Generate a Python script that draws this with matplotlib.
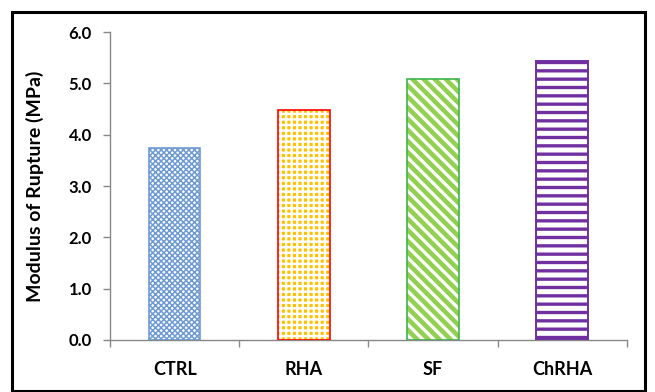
import matplotlib.pyplot as plt
from matplotlib.patches import Rectangle

# data
categories = ["CTRL", "RHA", "SF", "ChRHA"]
mor = [3.75, 4.49, 5.08, 5.44]
y_ticks = [0.0, 1.0, 2.0, 3.0, 4.0, 5.0, 6.0]

plt.rcParams['font.family'] = ['Lato', 'DejaVu Sans']
plt.rcParams['font.weight'] = 'bold'

fig = plt.figure(figsize=(6.55, 3.92), dpi=100)
ax = fig.add_axes([0.168, 0.133, 0.789, 0.785])

x = list(range(len(categories)))
w = 0.4

# CTRL: blue diamond lattice
plt.rcParams['hatch.linewidth'] = 1.1
ax.bar(x[0], mor[0], w, facecolor='white', edgecolor='#6E9AD3', hatch='xxxxxx', linewidth=0, zorder=3)
ax.bar(x[0], mor[0], w, facecolor='none', edgecolor='#6E9AD3', linewidth=1.2, zorder=4)

# RHA: gold checker with red outline
plt.rcParams['hatch.linewidth'] = 1.7
ax.bar(x[1], mor[1], w, facecolor='#FFC000', edgecolor='white', hatch='+++', linewidth=0, zorder=3)
ax.bar(x[1], mor[1], w, facecolor='none', edgecolor='#FF0000', linewidth=1.2, zorder=4)

# SF: green diagonals
plt.rcParams['hatch.linewidth'] = 3.3
ax.bar(x[2], mor[2], w, facecolor='white', edgecolor='#92D050', hatch='\\\\\\', linewidth=0, zorder=3)
ax.bar(x[2], mor[2], w, facecolor='none', edgecolor='#3DB54A', linewidth=1.2, zorder=4)

# ChRHA: purple horizontal stripes
plt.rcParams['hatch.linewidth'] = 2.4
ax.bar(x[3], mor[3], w, facecolor='white', edgecolor='#7030A0', hatch='--', linewidth=0, zorder=3)
ax.bar(x[3], mor[3], w, facecolor='none', edgecolor='#7030A0', linewidth=1.4, zorder=4)

ax.set_xlim(-0.5, len(categories) - 0.5)
ax.set_ylim(0, 6.0)
ax.set_yticks(y_ticks)
ax.set_yticklabels([f"{v:.1f}" for v in y_ticks])
ax.set_xticks(x)
ax.set_xticklabels(categories)
ax.tick_params(axis='x', length=0, pad=15, labelsize=13)
ax.tick_params(axis='y', length=5, width=1, color='#888888', pad=8, labelsize=12)

# category boundary ticks on the x axis
ax.set_xticks([i - 0.5 for i in range(len(categories) + 1)], minor=True)
ax.tick_params(axis='x', which='minor', length=5, width=1, color='#888888')

for s in ['top', 'right']:
    ax.spines[s].set_visible(False)
for s in ['left', 'bottom']:
    ax.spines[s].set_color('#888888')
    ax.spines[s].set_linewidth(1)

ax.set_ylabel("Modulus of Rupture (MPa)", fontsize=14, fontweight='bold')
ax.yaxis.set_label_coords(-0.128, 0.5)

# black frame around the chart
fig.patches.append(Rectangle((12 / 655, 1 / 392), 633 / 655, 379 / 392, transform=fig.transFigure,
                             fill=False, edgecolor='black', linewidth=2.2))

fig.savefig("out.png", dpi=100)
